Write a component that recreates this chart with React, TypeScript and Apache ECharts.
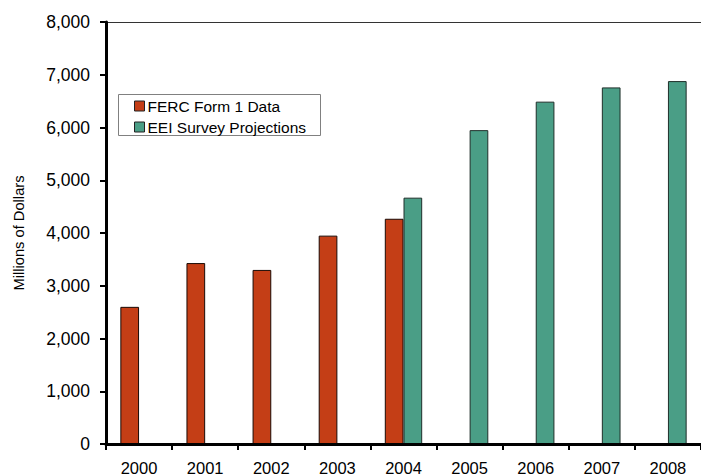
import React, { useEffect, useRef } from "react";
import * as echarts from "echarts";

const years = ["2000", "2001", "2002", "2003", "2004", "2005", "2006", "2007", "2008"];
const fercValues = [2600, 3430, 3300, 3950, 4270, null, null, null, null];
const eeiValues = [null, null, null, null, 4670, 5950, 6490, 6760, 6880];
const seriesNames = ["FERC Form 1 Data", "EEI Survey Projections"];
const yTitle = "Millions of Dollars";

const FONT = "'Liberation Sans', Arial, sans-serif";

export default function App() {
  const ref = useRef<HTMLDivElement>(null);
  useEffect(() => {
    document.body.style.margin = "0";
    const chart = echarts.init(ref.current!, null, { renderer: "svg" });
    chart.setOption({
      animation: false,
      backgroundColor: "#ffffff",
      textStyle: { fontFamily: FONT },
      grid: {
        left: 106,
        top: 22,
        bottom: 32,
        width: 602,
        show: false,
      },
      legend: {
        orient: "vertical",
        left: 134,
        top: 98,
        padding: 0,
        itemGap: 5,
        itemWidth: 10,
        itemHeight: 10,
        icon: "rect",
        data: seriesNames.map((n) => ({ name: n, itemStyle: { borderColor: "#222", borderWidth: 1 } })),
        textStyle: { fontFamily: FONT, fontSize: 15.5, color: "#000", padding: [0, 0, 0, -2] },
      },
      graphic: [
        {
          type: "rect",
          shape: { x: 118.5, y: 94.5, width: 202, height: 41 },
          style: { fill: "#fff", stroke: "#808080", lineWidth: 1 },
          z: 0,
        },
      ],
      xAxis: [
        {
          type: "category",
          data: years,
          boundaryGap: true,
          axisLine: { lineStyle: { color: "#000", width: 3 } },
          axisTick: { show: true, length: 6, lineStyle: { color: "#000", width: 2 } },
          axisLabel: { fontFamily: FONT, fontSize: 16.5, color: "#000", margin: 15, interval: 0 },
          splitLine: { show: false },
          z: 5,
        },
        {
          type: "category",
          data: years,
          position: "top",
          axisLine: { lineStyle: { color: "#333", width: 1 } },
          axisTick: { show: false },
          axisLabel: { show: false },
          splitLine: { show: false },
        },
      ],
      yAxis: {
        type: "value",
        min: 0,
        max: 8000,
        interval: 1000,
        name: yTitle,
        nameLocation: "middle",
        nameGap: 80,
        nameRotate: 90,
        nameTextStyle: { fontFamily: FONT, fontSize: 14.7, color: "#000" },
        axisLine: { show: true, onZero: false, lineStyle: { color: "#000", width: 3 } },
        axisTick: { show: true, length: 6, lineStyle: { color: "#000", width: 2 } },
        axisLabel: {
          fontFamily: FONT,
          fontSize: 17.5,
          color: "#000",
          margin: 16,
          formatter: (v: number) => String(v).replace(/\B(?=(\d{3})+(?!\d))/g, ","),
        },
        splitLine: { show: false },
        z: 5,
      },
      series: [
        {
          name: seriesNames[0],
          type: "bar",
          data: fercValues,
          barWidth: 18.7,
          barGap: "0%",
          itemStyle: { color: "#C43E16", borderColor: "#1a0a05", borderWidth: 1 },
          z: 3,
        },
        {
          name: seriesNames[1],
          type: "bar",
          data: eeiValues,
          barWidth: 18.7,
          barGap: "0%",
          itemStyle: { color: "#4A9E86", borderColor: "#1f2f2a", borderWidth: 1 },
          z: 3,
        },
      ],
    });
    return () => chart.dispose();
  }, []);
  return (
    <div
      ref={ref}
      style={{ position: "absolute", left: 0, top: 0, width: 701, height: 476 }}
    />
  );
}
